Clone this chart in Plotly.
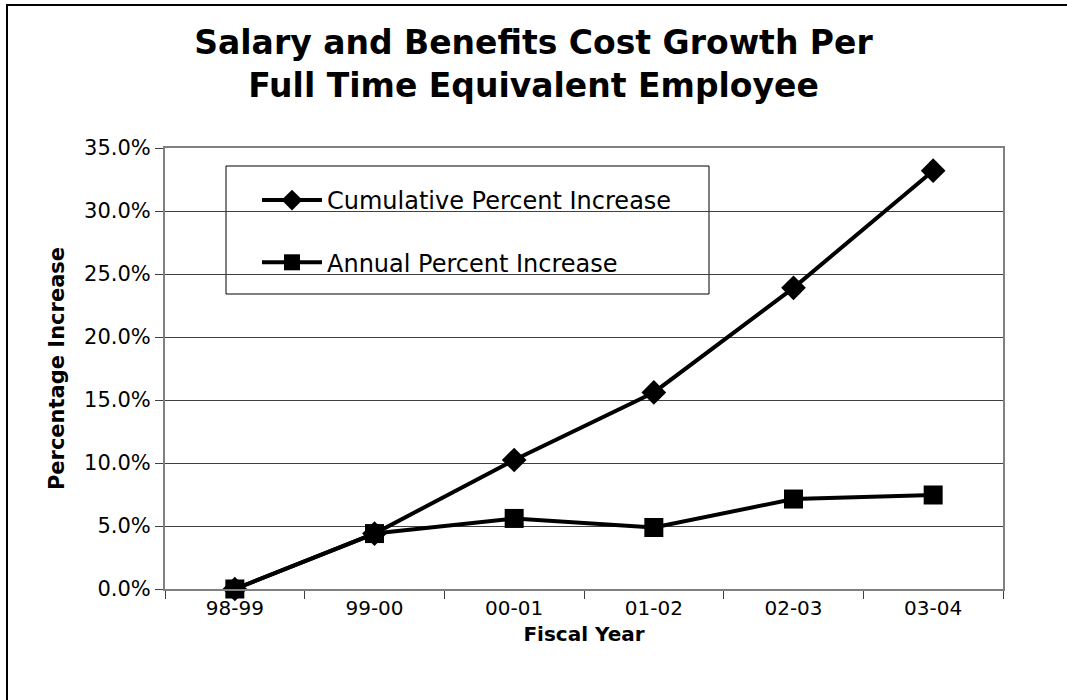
import plotly.graph_objects as go

years = ["98-99", "99-00", "00-01", "01-02", "02-03", "03-04"]
cumulative = [0.0, 0.044, 0.1024, 0.156, 0.239, 0.332]
annual = [0.0, 0.044, 0.056, 0.0488, 0.0714, 0.0746]

W, H = 1067, 700
L, R, T, B = 165, 64, 148, 111
pw, ph = W - L - R, H - T - B

def px(x):
    return (x - L) / pw

def py(y):
    return (H - B - y) / ph

font = "DejaVu Sans, Verdana, sans-serif"

fig = go.Figure()
fig.add_trace(go.Scatter(
    x=years, y=cumulative, name="Cumulative Percent Increase",
    mode="lines+markers", legendgroup="a",
    line=dict(color="black", width=4),
    marker=dict(symbol="diamond", size=19, color="black"),
    cliponaxis=False,
))
fig.add_trace(go.Scatter(
    x=years, y=annual, name="Annual Percent Increase",
    mode="lines+markers", legendgroup="b",
    line=dict(color="black", width=4),
    marker=dict(symbol="square", size=19, color="black"),
    cliponaxis=False,
))

fig.update_layout(
    width=W, height=H,
    margin=dict(l=L, r=R, t=T, b=B),
    paper_bgcolor="white", plot_bgcolor="white",
    font=dict(family=font, color="black", size=20),
    title=dict(
        text="<b>Salary and Benefits Cost Growth Per<br>Full Time Equivalent Employee</b>",
        x=0.5, xanchor="center", xref="container", y=1 - 54 / H, yanchor="middle",
        font=dict(size=33, family=font, color="black"),
    ),
    showlegend=True,
    legend=dict(
        x=px(257), y=py(178), xanchor="left", yanchor="top",
        bgcolor="rgba(0,0,0,0)", borderwidth=0,
        font=dict(size=24, family=font, color="black"),
        itemwidth=60, traceorder="grouped", tracegroupgap=28,
    ),
    shapes=[
        dict(type="rect", xref="paper", yref="paper",
             x0=px(226), x1=px(709), y0=py(294), y1=py(166),
             fillcolor="white", line=dict(color="black", width=1), layer="between"),
        dict(type="rect", xref="paper", yref="paper",
             x0=px(7), x1=px(1075), y0=py(710), y1=py(5),
             fillcolor="rgba(0,0,0,0)", line=dict(color="black", width=2), layer="above"),
    ],
)

fig.update_xaxes(
    type="category", range=[-0.5, 5.5],
    showline=True, linecolor="#808080", linewidth=2, mirror=True,
    ticks="outside", tickson="boundaries", ticklen=8, tickcolor="#404040", tickwidth=1,
    showgrid=False,
    tickfont=dict(size=20, family=font),
    title=dict(text="<b>Fiscal Year</b>", font=dict(size=20, family=font), standoff=8),
)
fig.update_yaxes(
    range=[0, 0.35], dtick=0.05, tickformat=".1%",
    showline=True, linecolor="#808080", linewidth=2, mirror=True,
    ticks="outside", ticklen=8, tickcolor="#404040", tickwidth=1,
    showgrid=True, gridcolor="#404040", gridwidth=1,
    zeroline=False,
    tickfont=dict(size=21, family=font),
    title=dict(text="<b>Percentage Increase</b>", font=dict(size=21, family=font), standoff=14),
)

fig.write_html("out.html", config={"displayModeBar": False},
               post_script="document.body.style.margin='0';")
